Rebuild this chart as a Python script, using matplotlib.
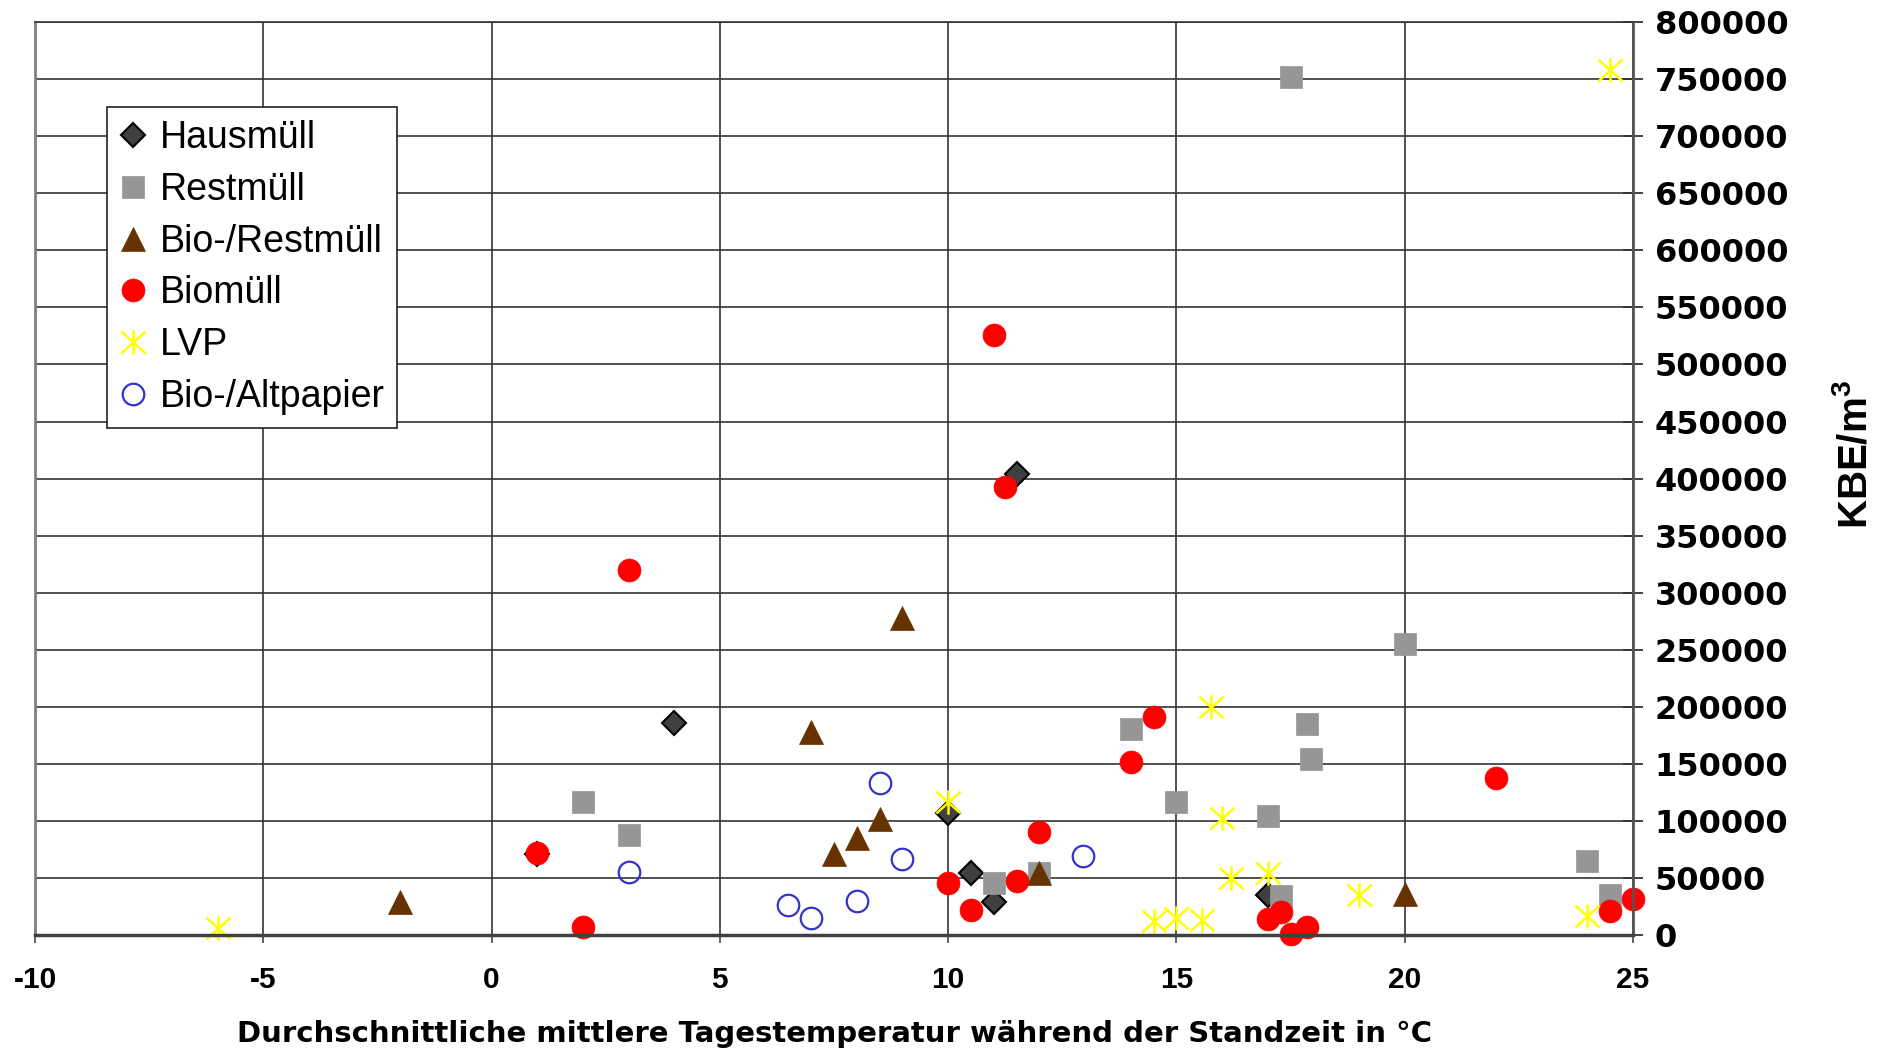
import matplotlib
matplotlib.use('Agg')
import matplotlib.pyplot as plt
from matplotlib.path import Path

# Hausmüll
haus_temp = [4, 11.5, 10, 1, 10.5, 11, 17]
haus_kbe = [186000, 404000, 107000, 71000, 54000, 29000, 35000]

# Restmüll
rest_temp = [17.5, 20, 14, 17.85, 17.95, 2, 15, 17, 3, 24, 11, 12, 17.3, 24.5]
rest_kbe = [752000, 255000, 181000, 185000, 154000, 117000, 117000, 104000,
            88000, 65000, 46000, 54000, 34000, 35000]

# Bio-/Restmüll
biorest_temp = [9, 7, 8.5, 8, 7.5, -2, 12, 20]
biorest_kbe = [278000, 178000, 102000, 85000, 71000, 29000, 54000, 36000]

# Biomüll
bio_temp = [11, 11.25, 3, 14.5, 14, 22, 12, 1, 10, 11.5, 10.5, 2,
            17, 17.3, 17.5, 17.85, 24.5, 25]
bio_kbe = [526000, 393000, 320000, 191000, 152000, 138000, 90000, 72000, 46000,
           47000, 22000, 7000, 14000, 20000, 1000, 7000, 21000, 32000]

# LVP
lvp_temp = [24.5, 15.75, 10, 16, 16.2, 17, 19, 24, 14.5, 15, 15.55, -6]
lvp_kbe = [758000, 200000, 117000, 103000, 50000, 54000, 35000, 17000,
           12000, 15000, 13500, 6000]

# Bio-/Altpapier
altp_temp = [8.5, 9, 12.95, 3, 6.5, 7, 8]
altp_kbe = [133000, 67000, 69000, 55000, 26000, 15000, 30000]

x_ticks = list(range(-10, 26, 5))
y_ticks = list(range(0, 800001, 50000))


def star_marker():
    # excel style star: X with a vertical bar
    verts = [(0, -1), (0, 1), (-1, -0.9), (1, 0.9), (-1, 0.9), (1, -0.9)]
    codes = [Path.MOVETO, Path.LINETO] * 3
    return Path(verts, codes)


def draw_chart():
    plt.rcParams['axes.unicode_minus'] = False
    plt.rcParams['mathtext.fontset'] = 'custom'
    plt.rcParams['mathtext.rm'] = 'Liberation Sans'
    plt.rcParams['mathtext.bf'] = 'Liberation Sans:bold'

    fig = plt.figure(figsize=(18.92, 10.53), dpi=100)
    ax = fig.add_axes([0.0185, 0.112, 0.8446, 0.867])

    ax.plot(haus_temp, haus_kbe, 'D', ms=12.5, mfc='#404040', mec='black',
            mew=1.5, label='Hausmüll', clip_on=False)
    ax.plot(rest_temp, rest_kbe, 's', ms=16, mfc='#969696', mec='#969696',
            mew=0.5, label='Restmüll', clip_on=False)
    ax.plot(biorest_temp, biorest_kbe, '^', ms=17.5, mfc='#663300', mec='#663300',
            mew=0.5, label='Bio-/Restmüll', clip_on=False)
    ax.plot(bio_temp, bio_kbe, 'o', ms=16.5, mfc='red', mec='red',
            mew=0.5, label='Biomüll', clip_on=False)
    ax.plot(lvp_temp, lvp_kbe, linestyle='none', marker=star_marker(), ms=17.5,
            mec='#FFFF00', mew=1.8, label='LVP', clip_on=False)
    ax.plot(altp_temp, altp_kbe, 'o', ms=15.5, mfc='none', mec='#3333CC',
            mew=1.6, label='Bio-/Altpapier', clip_on=False)

    ax.set_xlim(-10, 25)
    ax.set_ylim(0, 800000)
    ax.set_xticks(x_ticks)
    ax.set_yticks(y_ticks)
    ax.set_axisbelow(True)
    ax.grid(True, color='#333333', linewidth=1.2)

    ax.yaxis.tick_right()
    ax.tick_params(axis='y', direction='inout', length=15, width=1.3,
                   color='#333333', pad=8)
    ax.tick_params(axis='x', direction='inout', length=12, width=1.3,
                   color='#555555', pad=16)
    for lab in ax.get_yticklabels():
        lab.set_fontfamily('DejaVu Sans')
        lab.set_fontweight('bold')
        lab.set_fontsize(23)
    for lab in ax.get_xticklabels():
        lab.set_fontfamily('Liberation Sans')
        lab.set_fontweight('bold')
        lab.set_fontsize(21.5)

    ax.spines['left'].set_color('#808080')
    ax.spines['left'].set_linewidth(2)
    ax.spines['bottom'].set_color('#404040')
    ax.spines['bottom'].set_linewidth(2.5)
    ax.spines['right'].set_color('#555555')
    ax.spines['right'].set_linewidth(2)
    ax.spines['top'].set_color('#333333')
    ax.spines['top'].set_linewidth(1.2)

    leg = ax.legend(loc='upper left', bbox_to_anchor=(0.045, 0.907),
                    borderaxespad=0, fancybox=False, framealpha=1,
                    edgecolor='#222222', handlelength=0.7, handletextpad=0.35,
                    borderpad=0.35, labelspacing=0.42,
                    prop={'family': 'Liberation Sans', 'size': 27})
    leg.get_frame().set_linewidth(1.2)

    fig.text(0.441, 0.018, 'Durchschnittliche mittlere Tagestemperatur während der Standzeit in °C',
             ha='center', va='center', fontsize=21, fontweight='bold',
             family='DejaVu Sans')
    fig.text(0.9804, 0.568, r'KBE/m$^{\mathbf{3}}$', rotation=90,
             ha='center', va='center', fontsize=29, fontweight='bold',
             family='Liberation Sans')

    fig.savefig('out.png', dpi=100)


def main():
    draw_chart()


if __name__ == "__main__":
    main()
